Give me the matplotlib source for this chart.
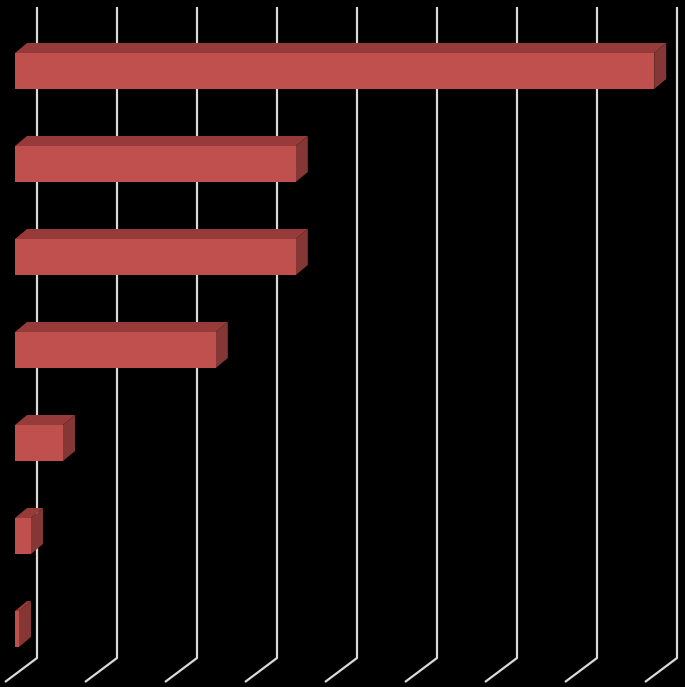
import matplotlib
matplotlib.use("Agg")
import matplotlib.pyplot as plt
from matplotlib.patches import Polygon
import numpy as np

# ---------------------------------------------------------------------------
# Data (one gridline = 1 unit)
# ---------------------------------------------------------------------------
categories = ["A", "B", "C", "D", "E", "F", "G"]
values = [7.99, 3.51, 3.51, 2.51, 0.60, 0.20, 0.05]
x_ticks = list(range(0, 9))

FRONT = "#C0504D"
TOP = "#963B39"
SIDE = "#843734"
GRID = "#D9D9D9"

# 3D geometry (value units on x, category units on y)
PX_X = 80.0            # pixels per value unit
PX_Y = 93.0            # pixels per category
BAR_H = 36 / PX_Y      # front-face height
DEPTH_DX = 12 / PX_X   # bar depth offset
DEPTH_DY = -10 / PX_Y
FLOOR_DX = 32 / PX_X   # full floor depth
FLOOR_DY = 24 / PX_Y
BAR_FRONT = 10 / PX_X  # bar front relative to floor front

fig = plt.figure(figsize=(6.85, 6.87), dpi=100, facecolor="black")
ax = fig.add_axes([0, 0, 1, 1])
ax.set_facecolor("black")
ax.set_xlim(-15 / PX_X, (685 - 15) / PX_X)
ax.set_ylim((687 - 71) / PX_Y, -71 / PX_Y)
ax.axis("off")

# gridlines: back wall vertical + floor diagonal
g_top = (7 - 71) / PX_Y
g_bot = (658 - 71) / PX_Y
back_off = FLOOR_DX - BAR_FRONT
for k in x_ticks:
    xb = k + back_off
    ax.plot([xb, xb, xb - FLOOR_DX], [g_top, g_bot, g_bot + FLOOR_DY],
            color=GRID, lw=1.6, solid_capstyle="butt", zorder=1)

# bars
for i, v in enumerate(values):
    y0 = i - BAR_H / 2
    y1 = i + BAR_H / 2
    front = [(0, y0), (v, y0), (v, y1), (0, y1)]
    top = [(0, y0), (DEPTH_DX, y0 + DEPTH_DY),
           (v + DEPTH_DX, y0 + DEPTH_DY), (v, y0)]
    side = [(v, y0), (v + DEPTH_DX, y0 + DEPTH_DY),
            (v + DEPTH_DX, y1 + DEPTH_DY), (v, y1)]
    ax.add_patch(Polygon(top, closed=True, fc=TOP, ec="none", zorder=3))
    ax.add_patch(Polygon(side, closed=True, fc=SIDE, ec="none", zorder=3))
    ax.add_patch(Polygon(front, closed=True, fc=FRONT, ec="none", zorder=4))

fig.savefig("out.png", dpi=100, facecolor="black")
